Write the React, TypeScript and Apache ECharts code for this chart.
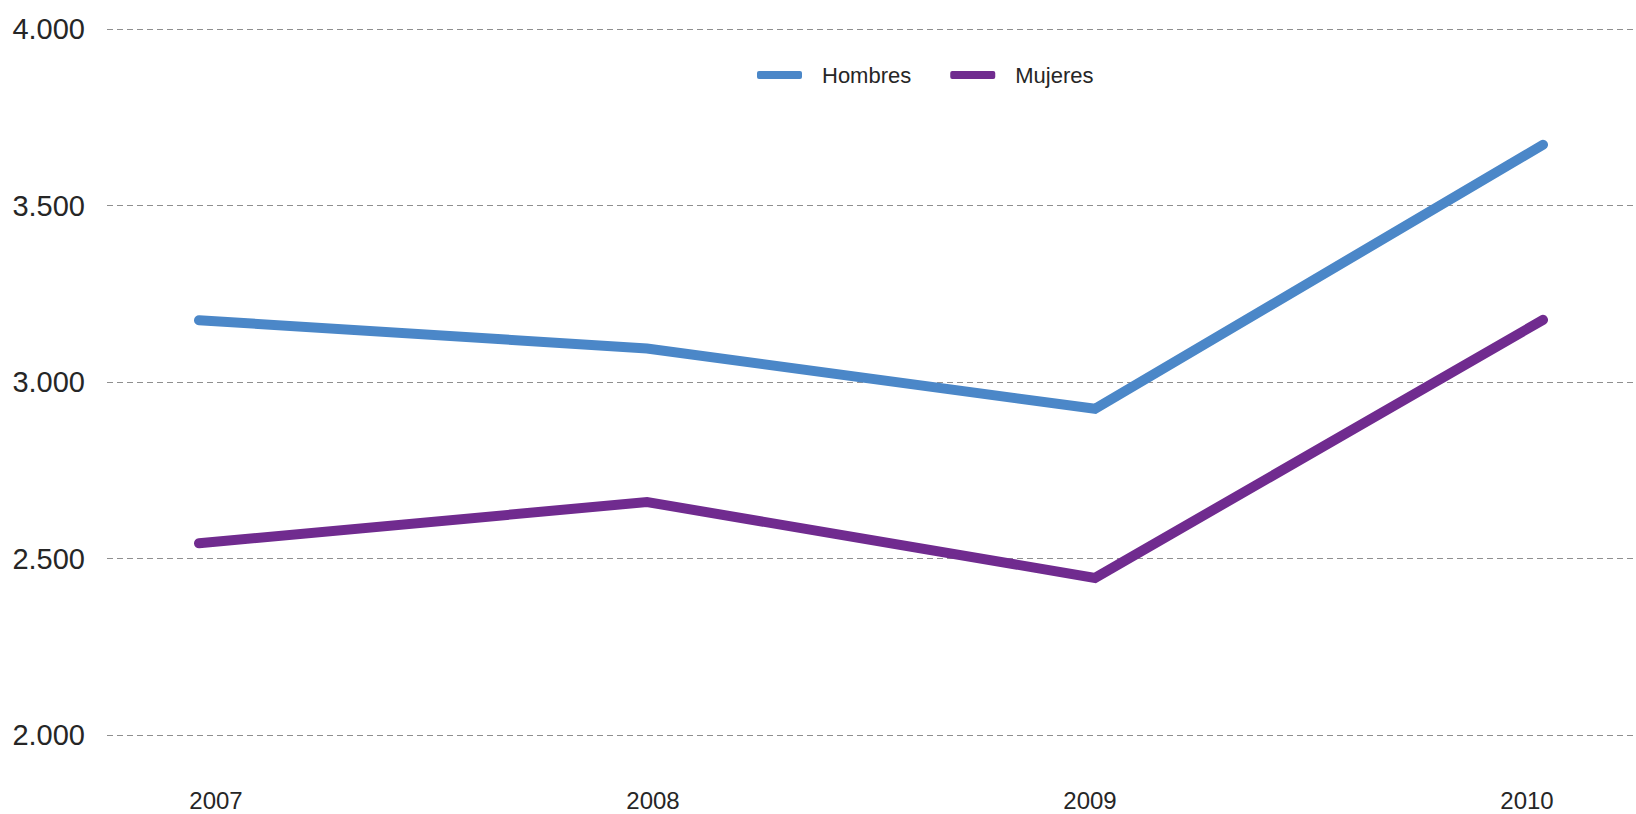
import React, { useEffect, useRef } from "react";
import * as echarts from "echarts";

const years = ["2007", "2008", "2009", "2010"];
const hombres = [3175, 3095, 2924, 3672];
const mujeres = [2543, 2660, 2445, 3176];
const yTicks = [2000, 2500, 3000, 3500, 4000];

const FONT = "'Liberation Sans', Arial, sans-serif";
const TEXT = "#262626";

const fmt = (v: number) => {
  const s = String(Math.round(v));
  return s.replace(/\B(?=(\d{3})+(?!\d))/g, ".");
};

export default function App() {
  const ref = useRef<HTMLDivElement>(null);
  useEffect(() => {
    if (!ref.current) return;
    const chart = echarts.init(ref.current, undefined, { renderer: "svg" });
    const yMin = yTicks[0];
    const yMax = yTicks[yTicks.length - 1];
    const yInt = yTicks[1] - yTicks[0];
    chart.setOption({
      animation: false,
      backgroundColor: "#ffffff",
      textStyle: { fontFamily: FONT },
      grid: [
        { left: 107, right: 2, top: 29, bottom: 79 },
        { left: 199, right: 93, top: 29, bottom: 79 },
        { left: 216, right: 109, top: 29, bottom: 79 },
      ],
      legend: {
        data: ["Hombres", "Mujeres"],
        left: 752,
        top: 59,
        icon: "roundRect",
        itemWidth: 45,
        itemHeight: 8,
        itemGap: 39,
        textStyle: {
          fontFamily: FONT,
          fontSize: 22,
          color: TEXT,
          padding: [0, 0, 0, 15],
        },
      },
      xAxis: [
        { gridIndex: 0, type: "category", data: years, show: false },
        { gridIndex: 1, type: "category", data: years, boundaryGap: false, show: false },
        {
          gridIndex: 2,
          type: "category",
          data: years,
          boundaryGap: false,
          axisLine: { show: false },
          axisTick: { show: false },
          splitLine: { show: false },
          axisLabel: {
            fontFamily: FONT,
            fontSize: 24,
            color: TEXT,
            margin: 65,
            verticalAlign: "middle",
          },
        },
      ],
      yAxis: [
        {
          gridIndex: 0,
          type: "value",
          min: yMin,
          max: yMax,
          interval: yInt,
          axisLine: { show: false },
          axisTick: { show: false },
          axisLabel: {
            fontFamily: FONT,
            fontSize: 29,
            color: TEXT,
            margin: 22,
            formatter: (v: number) => fmt(v),
          },
          splitLine: {
            show: true,
            lineStyle: { color: "#8f8f8f", width: 1, type: [6, 4] },
          },
        },
        { gridIndex: 1, type: "value", min: yMin, max: yMax, interval: yInt, show: false },
        { gridIndex: 2, type: "value", min: yMin, max: yMax, interval: yInt, show: false },
      ],
      series: [
        {
          name: "Hombres",
          type: "line",
          xAxisIndex: 1,
          yAxisIndex: 1,
          data: hombres,
          symbol: "none",
          color: "#4B87C8",
          lineStyle: { width: 10, cap: "round", join: "miter", color: "#4B87C8" },
        },
        {
          name: "Mujeres",
          type: "line",
          xAxisIndex: 1,
          yAxisIndex: 1,
          data: mujeres,
          symbol: "none",
          color: "#702B8F",
          lineStyle: { width: 10, cap: "round", join: "miter", color: "#702B8F" },
        },
      ],
    });
    return () => chart.dispose();
  }, []);
  return (
    <div
      ref={ref}
      style={{ position: "fixed", left: 0, top: 0, width: 1636, height: 814, background: "#fff" }}
    />
  );
}
